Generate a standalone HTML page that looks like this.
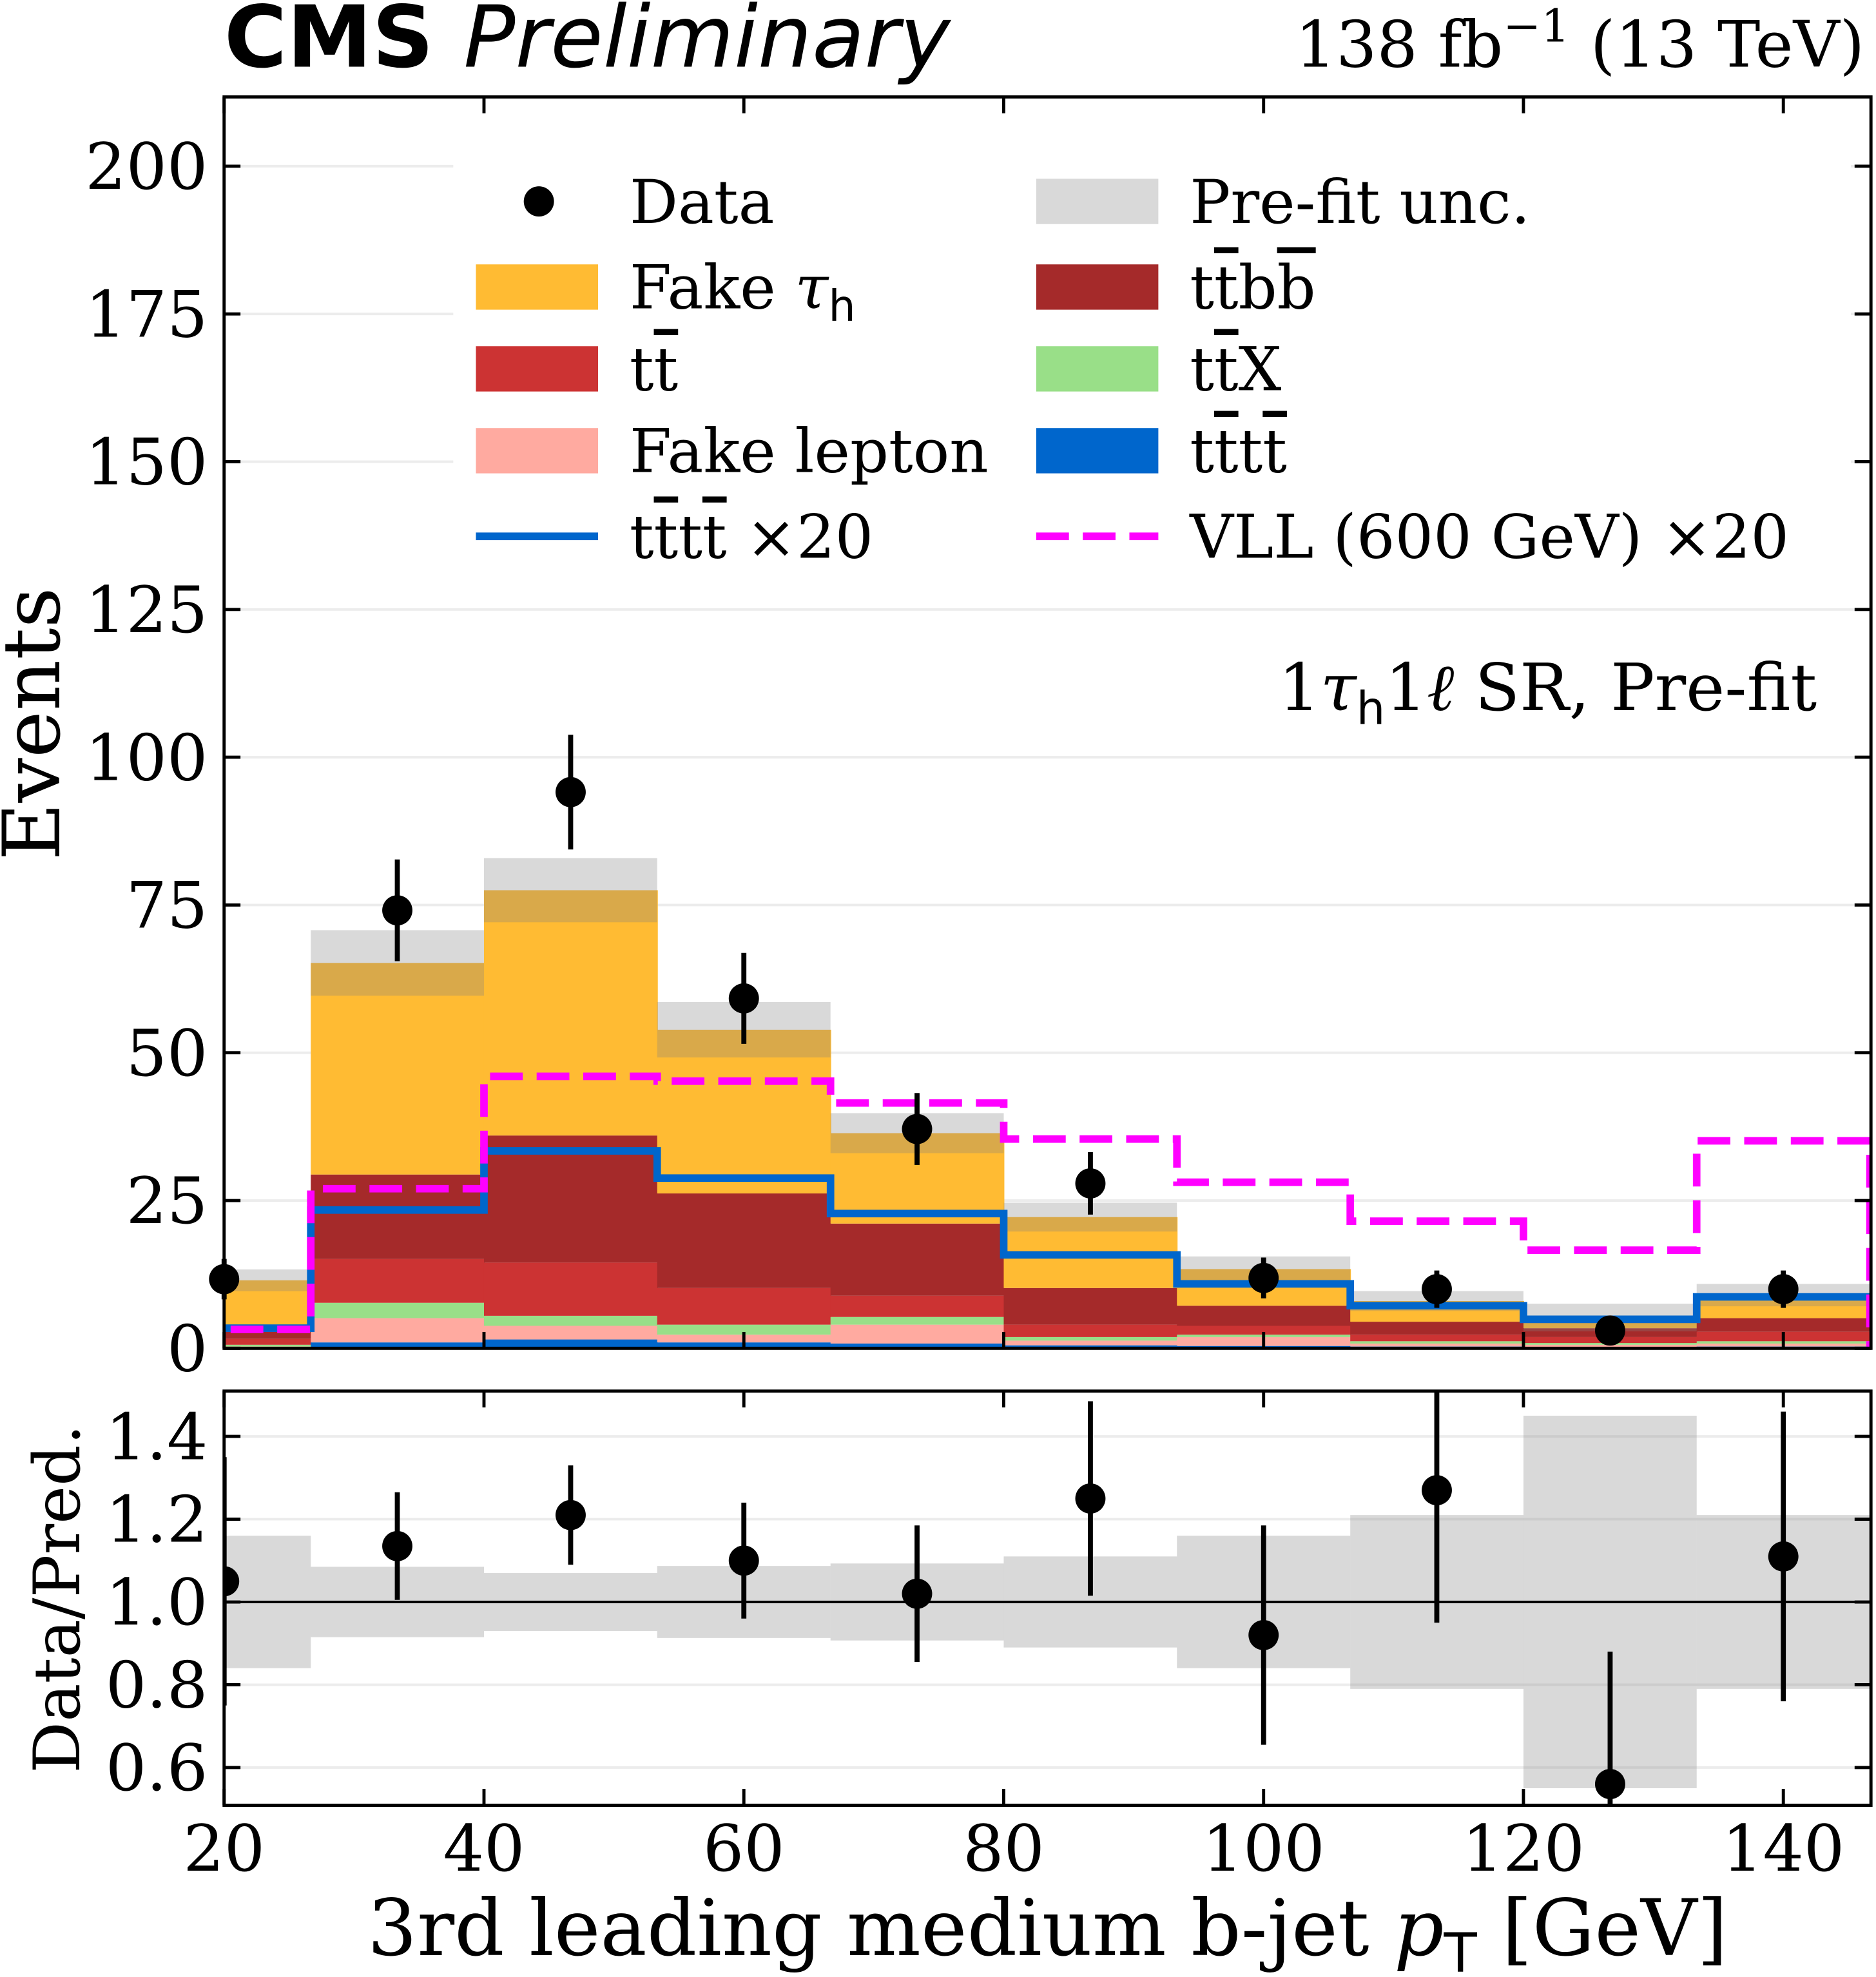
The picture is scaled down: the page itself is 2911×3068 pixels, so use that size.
<!DOCTYPE html>
<html><head><meta charset="utf-8"><style>
html,body{margin:0;padding:0;background:#fff}
svg{display:block}
text{font-family:"DejaVu Serif","Liberation Serif",serif;fill:#000}
.ol{text-decoration:overline}
</style></head><body>
<svg id="chart" width="2911" height="3068" viewBox="0 0 1490 1570.4" preserveAspectRatio="none" xmlns="http://www.w3.org/2000/svg">
<defs>
<clipPath id="clipMain"><rect x="178" y="77" width="1308" height="994"/></clipPath>
<clipPath id="clipRatio"><rect x="178" y="1105" width="1308" height="329"/></clipPath>
</defs>
<g id="mainGrid"></g>
<g id="stack" clip-path="url(#clipMain)"></g>
<g id="lines" clip-path="url(#clipMain)"></g>
<g id="points"></g>
<g id="ratioGrid"></g>
<g id="ratio" clip-path="url(#clipRatio)"></g>
<g id="axes"></g>
<text x="178" y="53" style="font-family:'DejaVu Sans','Liberation Sans',sans-serif;font-weight:bold;font-size:68px">CMS <tspan style="font-weight:normal;font-style:italic">Preliminary</tspan></text>
<text x="1481" y="53" text-anchor="end" style="font-size:51px">138 fb<tspan dy="-20" font-size="36">−1</tspan><tspan dy="20"> (13 TeV)</tspan></text>
<text x="1443" y="564" text-anchor="end" style="font-size:52px">1<tspan font-style="italic">τ</tspan><tspan dy="11" font-size="36" style="font-family:'DejaVu Sans',sans-serif">h</tspan><tspan dy="-11">1</tspan><tspan font-style="italic">ℓ</tspan> SR, Pre-fit</text>
<text transform="translate(47,575) rotate(-90)" text-anchor="middle" style="font-size:63px">Events</text>
<text transform="translate(63,1270) rotate(-90)" text-anchor="middle" style="font-size:51px">Data/Pred.</text>
<text x="832" y="1553" text-anchor="middle" style="font-size:62px">3rd leading medium b-jet <tspan font-style="italic">p</tspan><tspan dy="13" font-size="43" style="font-family:'DejaVu Sans',sans-serif">T</tspan><tspan dy="-13"> [GeV]</tspan></text>
<g id="legend"></g>
</svg>
<script>
const binEdges = [13.33,26.67,40,53.33,66.67,80,93.33,106.67,120,133.33,146.67];
const tttt    = [0.1,1.0,1.5,1.0,0.8,0.5,0.4,0.3,0.2,0.3];
const fakeLep = [0.2,4.1,2.3,1.3,3.2,0.8,1.5,0.5,0.4,0.5];
const ttX     = [0.3,2.6,1.7,1.7,1.3,0.6,0.4,0.4,0.3,0.4];
const ttbar   = [1.0,7.4,9.0,6.2,3.6,2.1,1.5,1.1,1.0,1.6];
const ttbb    = [1.5,14.3,21.5,16.0,12.2,6.2,3.4,2.2,1.5,2.3];
const fakeTau = [8.4,35.8,41.5,27.7,15.3,12.0,6.2,3.5,1.8,3.9];
const relUnc  = [0.16,0.085,0.07,0.087,0.093,0.11,0.16,0.21,0.45,0.21];
const dataX   = [20,33.33,46.67,60,73.33,86.67,100,113.33,126.67,140];
const dataY   = [11.7,74.1,94.1,59.2,37.1,27.9,11.9,10.0,3.0,10.0];
const ttttX20 = [3.4,23.4,33.4,28.8,22.8,15.8,10.9,7.2,4.9,8.7];
const vllX20  = [3.2,27.0,46.0,45.2,41.5,35.4,28.1,21.5,16.6,35.1];
const ratioY  = [1.05,1.135,1.21,1.10,1.02,1.25,0.92,1.27,0.56,1.11];
const ratioErr= [0.30,0.13,0.12,0.14,0.165,0.235,0.265,0.32,0.32,0.35];
const yTicks  = [0,25,50,75,100,125,150,175,200];
const rTicks  = [0.6,0.8,1.0,1.2,1.4];
const xTicks  = [20,40,60,80,100,120,140];

const NS="http://www.w3.org/2000/svg";
const X=v=>178+(v-20)*10.32;
const Y=v=>1071-v*4.695;
const R=v=>1141+(1.4-v)*328.75;
function mk(tag,attrs,parent){const e=document.createElementNS(NS,tag);for(const k in attrs)e.setAttribute(k,attrs[k]);parent.appendChild(e);return e;}
const G=id=>document.getElementById(id);

yTicks.forEach(t=>{const l=mk('line',{x1:178,x2:1486,y1:Y(t),y2:Y(t),stroke:'#ececec','stroke-width':2},G('mainGrid'));

});
rTicks.forEach(t=>{const l=mk('line',{x1:178,x2:1486,y1:R(t),y2:R(t),stroke:'#ececec','stroke-width':2},G('ratioGrid'));

});

const comps=[[tttt,'#0066cc','tttt'],[fakeLep,'#ffaaa0','fake-lepton'],[ttX,'#99df88','ttx'],[ttbar,'#cc3333','ttbar'],[ttbb,'#a52a2a','ttbb'],[fakeTau,'#ffbb33','fake-tau']];
const totals=[];
for(let i=0;i<10;i++){let base=0;
 comps.forEach(([arr,col,nm])=>{const top=base+arr[i];
  const r=mk('rect',{x:X(binEdges[i]),y:Y(top),width:X(binEdges[i+1])-X(binEdges[i])+0.5,height:Y(base)-Y(top),fill:col},G('stack'));
  
  
  base=top;});
 totals.push(base);}
for(let i=0;i<10;i++){const hi=totals[i]*(1+relUnc[i]),lo=totals[i]*(1-relUnc[i]);
 const r=mk('rect',{x:X(binEdges[i]),y:Y(hi),width:X(binEdges[i+1])-X(binEdges[i]),height:Y(lo)-Y(hi),fill:'rgba(128,128,128,0.3)'},G('stack'));
 
 
 const b=mk('rect',{x:X(binEdges[i]),y:R(1+relUnc[i]),width:X(binEdges[i+1])-X(binEdges[i]),height:R(1-relUnc[i])-R(1+relUnc[i]),fill:'rgba(128,128,128,0.3)'},G('ratio'));
 
 }

function step(arr){let d='M'+X(binEdges[0])+','+Y(arr[0]);
 for(let i=0;i<arr.length;i++){d+=' L'+X(binEdges[i])+','+Y(arr[i])+' L'+X(binEdges[i+1])+','+Y(arr[i]);}
 return d;}
const tl=mk('path',{d:step(ttttX20),fill:'none',stroke:'#0066cc','stroke-width':6},G('lines'));


const vl=mk('path',{d:step(vllX20)+' L'+X(binEdges[10])+','+Y(0),fill:'none',stroke:'#ff00ff','stroke-width':6,'stroke-dasharray':'26,11'},G('lines'));



for(let i=0;i<10;i++){const e=Math.sqrt(dataY[i]);
 const l=mk('line',{x1:X(dataX[i]),x2:X(dataX[i]),y1:Y(dataY[i]+e),y2:Y(Math.max(0,dataY[i]-e)),stroke:'#000','stroke-width':4},G('points'));
 
 
 const c=mk('circle',{cx:X(dataX[i]),cy:Y(dataY[i]),r:12,fill:'#000'},G('points'));
 
 }

const one=mk('line',{x1:178,x2:1486,y1:R(1),y2:R(1),stroke:'#000','stroke-width':2},G('ratio'));


for(let i=0;i<10;i++){
 const l=mk('line',{x1:X(dataX[i]),x2:X(dataX[i]),y1:R(ratioY[i]+ratioErr[i]),y2:R(ratioY[i]-ratioErr[i]),stroke:'#000','stroke-width':4},G('ratio'));
 
 
 const c=mk('circle',{cx:X(dataX[i]),cy:R(ratioY[i]),r:12,fill:'#000'},G('ratio'));
 
 }

const ax=G('axes');
[[77,1071],[1105,1434]].forEach(([t,b])=>{const f=mk('rect',{x:178,y:t,width:1308,height:b-t,fill:'none',stroke:'#000','stroke-width':2.5},ax);
 
 
 xTicks.forEach(v=>{mk('line',{x1:X(v),x2:X(v),y1:b,y2:b-13,stroke:'#000','stroke-width':2.5},ax);mk('line',{x1:X(v),x2:X(v),y1:t,y2:t+13,stroke:'#000','stroke-width':2.5},ax);});});
yTicks.forEach(v=>{mk('line',{x1:178,x2:191,y1:Y(v),y2:Y(v),stroke:'#000','stroke-width':2.5},ax);mk('line',{x1:1486,x2:1473,y1:Y(v),y2:Y(v),stroke:'#000','stroke-width':2.5},ax);
 const t=mk('text',{x:165,y:Y(v)+18,'text-anchor':'end','font-size':51},ax);t.textContent=v;
 
 });
rTicks.forEach(v=>{mk('line',{x1:178,x2:191,y1:R(v),y2:R(v),stroke:'#000','stroke-width':2.5},ax);mk('line',{x1:1486,x2:1473,y1:R(v),y2:R(v),stroke:'#000','stroke-width':2.5},ax);
 const t=mk('text',{x:165,y:R(v)+18,'text-anchor':'end','font-size':51},ax);t.textContent=v.toFixed(1);
 
 });
xTicks.forEach(v=>{const t=mk('text',{x:X(v),y:1486,'text-anchor':'middle','font-size':51},ax);t.textContent=v;
 
 });

const lg=G('legend');
const bg=mk('rect',{x:360,y:120,width:1110,height:340,fill:'#fff'},lg);


const rows=[160,228,293,358,426];
const left=[['data','Data'],['#ffbb33','Fake τh'],['#cc3333','tt̄'],['#ffaaa0','Fake lepton'],['line-blue','tt̄tt̄ ×20']];
const right=[['#d9d9d9','Pre-fit unc.'],['#a52a2a','tt̄bb̄'],['#99df88','tt̄X'],['#0066cc','tt̄tt̄'],['line-mag','VLL (600 GeV) ×20']];
function esc(s){return s.replace(/(.)\u0304/g,'<tspan class="ol">$1</tspan>');}
function entry(x0,tx,y,kind,label){
 if(kind==='data'){mk('circle',{cx:x0+50,cy:y,r:12,fill:'#000'},lg);}
 else if(kind==='line-blue'){mk('line',{x1:x0,x2:x0+97,y1:y,y2:y,stroke:'#0066cc','stroke-width':6},lg);}
 else if(kind==='line-mag'){mk('line',{x1:x0,x2:x0+97,y1:y,y2:y,stroke:'#ff00ff','stroke-width':6,'stroke-dasharray':'26,11'},lg);}
 else{mk('rect',{x:x0,y:y-18,width:97,height:36,fill:kind},lg);}
 const t=mk('text',{x:tx,y:y+17,'font-size':48},lg);
 if(label==='Fake τh'){t.innerHTML='Fake <tspan font-style="italic">τ</tspan><tspan dy="10" font-size="34" style="font-family:\'DejaVu Sans\',sans-serif">h</tspan>';}
 else t.innerHTML=esc(label);
 
 }
left.forEach((e,i)=>entry(378,500,rows[i],e[0],e[1]));
right.forEach((e,i)=>entry(823,945,rows[i],e[0],e[1]));
</script>
</body></html>
